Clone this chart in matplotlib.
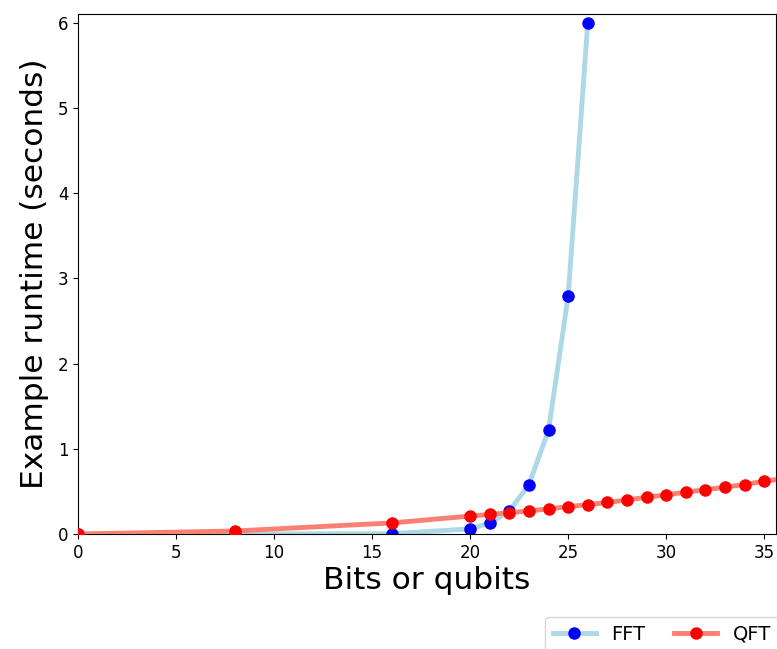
import numpy as np
import matplotlib
matplotlib.use('Agg')
import matplotlib.pyplot as plt

# runtimes in seconds
fft_bits = [0, 8, 16, 20, 21, 22, 23, 24, 25, 26]
fft_time = [0.0, 0.0, 0.004, 0.06, 0.13, 0.27, 0.58, 1.22, 2.79, 6.0]

qft_qubits = [0, 8, 16, 20, 21, 22, 23, 24, 25, 26, 27, 28,
              29, 30, 31, 32, 33, 34, 35, 36]
qft_time = [0.0, 0.035, 0.13, 0.21, 0.23, 0.25, 0.27, 0.295, 0.32, 0.345,
            0.37, 0.40, 0.43, 0.46, 0.49, 0.52, 0.55, 0.58, 0.62, 0.65]

fig = plt.figure(figsize=(7.77, 6.49), dpi=100)
ax = fig.add_axes([78/777, (649-534)/649, (776-78)/777, (534-14)/649])

ax.plot(fft_bits, fft_time, color='lightblue', lw=3.5, marker='o',
        ms=8, mfc='blue', mec='blue', label='FFT', zorder=2)
ax.plot(qft_qubits, qft_time, color='salmon', lw=3.5, marker='o',
        ms=8, mfc='red', mec='red', label='QFT', zorder=3)

ax.set_xlim(0, 35.6)
ax.set_ylim(0, 6.1)
ax.set_xticks([0, 5, 10, 15, 20, 25, 30, 35])
ax.set_yticks([0, 1, 2, 3, 4, 5, 6])
ax.tick_params(labelsize=12)
ax.set_xlabel('Bits or qubits', fontsize=22.5, labelpad=3)
ax.set_ylabel('Example runtime (seconds)', fontsize=22.5, labelpad=6)

fig.legend(loc='upper left', bbox_to_anchor=(545/777, 1 - 617/649),
           ncol=2, fontsize=14, frameon=True, borderaxespad=0,
           handlelength=2.2, columnspacing=1.5)

fig.savefig('out.png', dpi=100)
